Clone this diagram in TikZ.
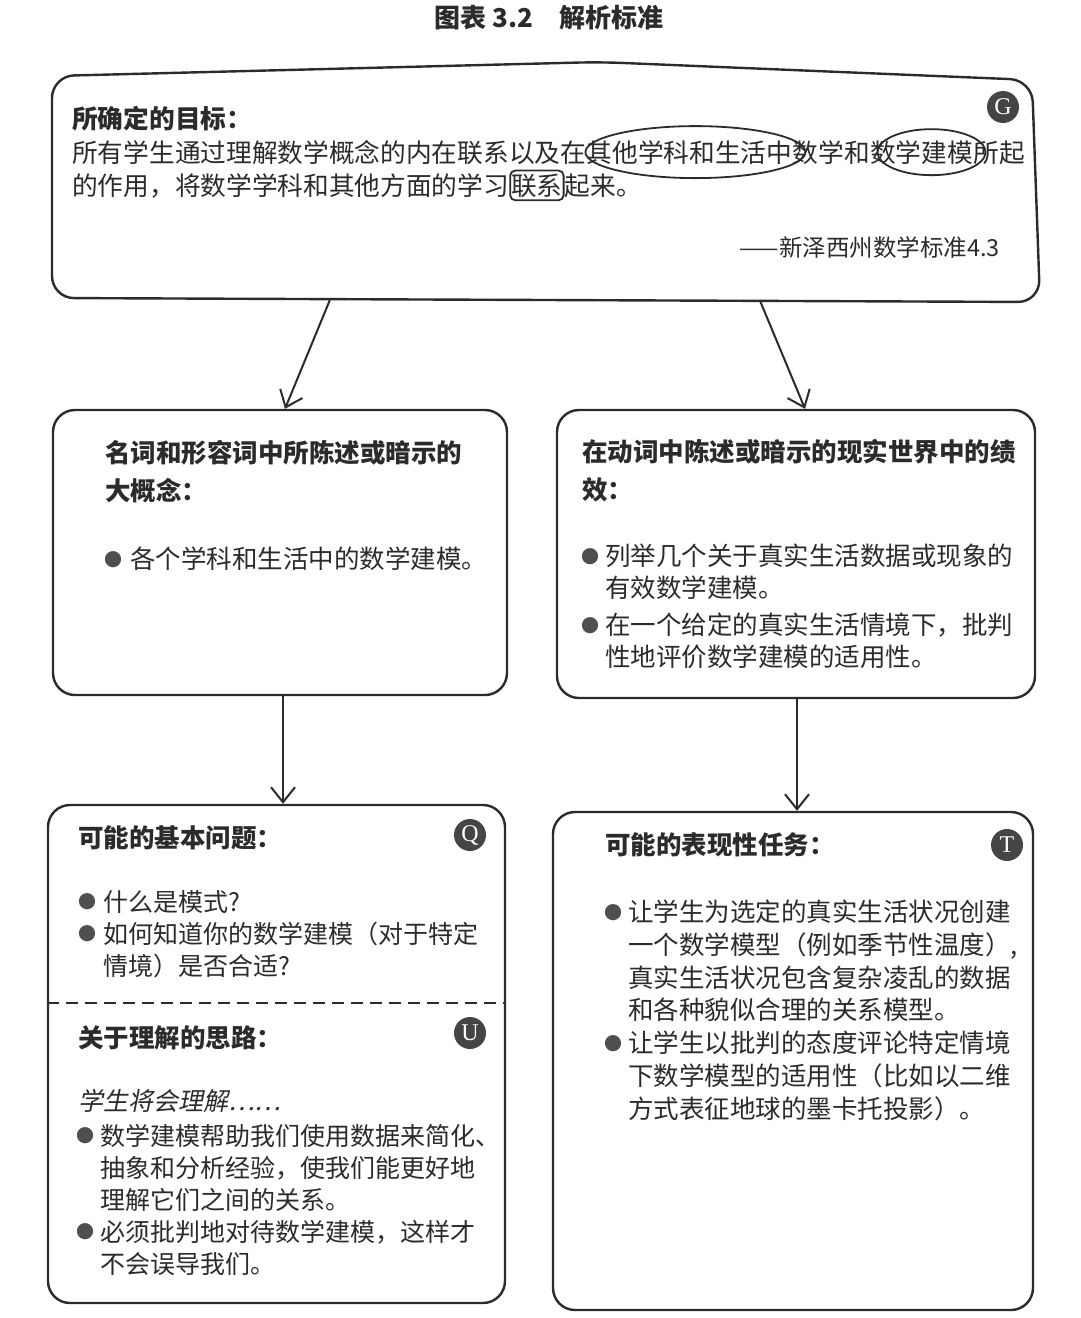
\documentclass[tikz,border=0pt]{standalone}
\usepackage{fontspec}
\setmainfont{Noto Sans CJK SC}
\newfontfamily\slantcjk[FakeSlant=0.2]{Noto Sans CJK SC}
\newfontfamily\badgefont{Liberation Serif}
\usetikzlibrary{positioning,arrows.meta}
\definecolor{ink}{HTML}{2B2B2B}
\definecolor{badgegray}{HTML}{454545}
\definecolor{dotgray}{HTML}{4F4F4F}
\newcommand\bul[1]{\llap{\raisebox{2.5pt}{\fontsize{18}{18}\selectfont\color{dotgray}●}\hspace{#1}}}

\begin{document}
\begin{tikzpicture}[x=1pt,y=-1pt,
  boxline/.style={draw=ink,line width=2.4pt,rounded corners=22pt},
  box/.style={boxline,rectangle,inner sep=0pt},
  txt/.style={inner sep=0pt,text=ink,align=left,font=\fontsize{25.5}{32}\selectfont},
  head/.style={txt,font=\bfseries\fontsize{25.5}{38}\selectfont},
  badge/.style={circle,fill=badgegray,text=white,minimum size=32pt,inner sep=0pt,font=\badgefont\fontsize{24}{24}\selectfont},
  ringed/.style={draw=ink,line width=1.8pt},
  arr/.style={draw=ink,line width=2pt,-{Straight Barb[length=15pt,width=24pt]}}]
  \fill[white] (0,0) rectangle (1080,1318);
  \useasboundingbox (0,0) rectangle (1080,1318);

  \node[txt,font=\bfseries\fontsize{26}{30}\selectfont] (title) at (549,18) {图表 3.2\hspace{1em}解析标准};

  % goal
  \node[minimum width=988pt,minimum height=230pt,inner sep=0pt] (goal) at (546,185) {};
  \draw[boxline] (52,298) -- (52,76) -- (600,62) -- (1032,80) -- (1040,302) -- cycle;
  \node[badge] (bG) at (1003,107) {G};
  \node[txt,font=\bfseries\fontsize{25.7}{32}\selectfont,anchor=base west] (gh) at (72,128) {所确定的目标：};
  \node[txt,font=\fontsize{25.7}{32}\selectfont,anchor=base west] (g2a) at (72,162) {所有学生通过理解数学概念的内在联系以及在};
  \node[txt,font=\fontsize{25.7}{32}\selectfont,anchor=base west] (w1) at (g2a.base east) {其他学科和生活中};
  \node[txt,font=\fontsize{25.7}{32}\selectfont,anchor=base west] (g2c) at (w1.base east) {数学和};
  \node[txt,font=\fontsize{25.7}{32}\selectfont,anchor=base west] (w2) at (g2c.base east) {数学建模};
  \node[txt,font=\fontsize{25.7}{32}\selectfont,anchor=base west] (g2e) at (w2.base east) {所起};
  \node[txt,font=\fontsize{25.7}{32}\selectfont,anchor=base west] (g3a) at (72,195) {的作用，将数学学科和其他方面的学习};
  \node[txt,font=\fontsize{25.7}{32}\selectfont,anchor=base west,ringed,rounded corners=5pt,inner xsep=1pt,inner ysep=3pt] (w3) at (g3a.base east) {联系};
  \node[txt,font=\fontsize{25.7}{32}\selectfont,anchor=base west] (g3c) at (w3.base east) {起来。};
  \draw[ringed] ([xshift=6pt]w1.center) ellipse [x radius=110pt,y radius=26pt];
  \draw[ringed] ([xshift=10pt]w2.center) ellipse [x radius=54pt,y radius=23pt];
  \node[txt,font=\fontsize{23.5}{23.5}\selectfont,anchor=base east] (cite) at (1000,256) {——新泽西州数学标准4.3};

  % ideas and performances
  \node[box,minimum width=454pt,minimum height=285pt] (ideas) at (280,552.5) {};
  \node[head,anchor=north west] (ideash) at (105,440) {名词和形容词中所陈述或暗示的\\大概念：};
  \node[txt,anchor=north west] (ideasb) at (130,547) {\bul{8pt}各个学科和生活中的数学建模。};

  \node[box,minimum width=478pt,minimum height=288pt] (perf) at (796,554) {};
  \node[head,anchor=north west] (perfh) at (582,439) {在动词中陈述或暗示的现实世界中的绩\\效：};
  \node[txt,anchor=north west] (perfb) at (605,544) {\bul{6pt}列举几个关于真实生活数据或现象的\\有效数学建模。\\[5pt]\bul{6pt}在一个给定的真实生活情境下，批判\\性地评价数学建模的适用性。};

  % questions and understandings
  \node[box,minimum width=457pt,minimum height=498pt] (quest) at (276.5,1054) {};
  \node[head,anchor=north west] (questh) at (78,825) {可能的基本问题：};
  \node[badge] (bQ) at (470,835) {Q};
  \node[txt,font=\fontsize{25}{32}\selectfont,anchor=north west] (questb) at (103,890) {\bul{7pt}什么是模式?\\\bul{7pt}如何知道你的数学建模（对于特定\\情境）是否合适?};
  \draw[draw=ink,line width=1.5pt,dash pattern=on 12pt off 7pt] (quest.west |- 0,1003) -- (quest.east |- 0,1003);
  \node[head,anchor=north west] (undh) at (78,1025) {关于理解的思路：};
  \node[badge] (bU) at (470,1033) {U};
  \node[txt,font=\slantcjk\fontsize{25}{32}\selectfont,anchor=north west] (undi) at (78,1089) {学生将会理解……};
  \node[txt,font=\fontsize{25}{32}\selectfont,anchor=north west] (undb) at (100,1124) {\bul{6pt}数学建模帮助我们使用数据来简化、\\抽象和分析经验，使我们能更好地\\理解它们之间的关系。\\\bul{6pt}必须批判地对待数学建模，这样才\\不会误导我们。};

  % tasks
  \node[box,minimum width=480pt,minimum height=498pt] (tasks) at (793,1061) {};
  \node[head,anchor=north west] (tasksh) at (605,832) {可能的表现性任务：};
  \node[badge] (bT) at (1007,845) {T};
  \node[txt,font=\fontsize{25.5}{32.7}\selectfont,anchor=north west] (tasksb) at (628,900) {\bul{6pt}让学生为选定的真实生活状况创建\\一个数学模型（例如季节性温度）,\\真实生活状况包含复杂凌乱的数据\\和各种貌似合理的关系模型。\\\bul{6pt}让学生以批判的态度评论特定情境\\下数学模型的适用性（比如以二维\\方式表征地球的墨卡托投影）。};

  \draw[arr] ([xshift=278pt]goal.south west) -- ([xshift=5pt]ideas.north);
  \draw[arr] ([xshift=708pt]goal.south west) -- ([xshift=9pt]perf.north);
  \draw[arr] ([xshift=3pt]ideas.south) -- ([xshift=3pt]ideas.south |- quest.north);
  \draw[arr] ([xshift=1pt]perf.south) -- ([xshift=1pt]perf.south |- tasks.north);
\end{tikzpicture}
\end{document}
